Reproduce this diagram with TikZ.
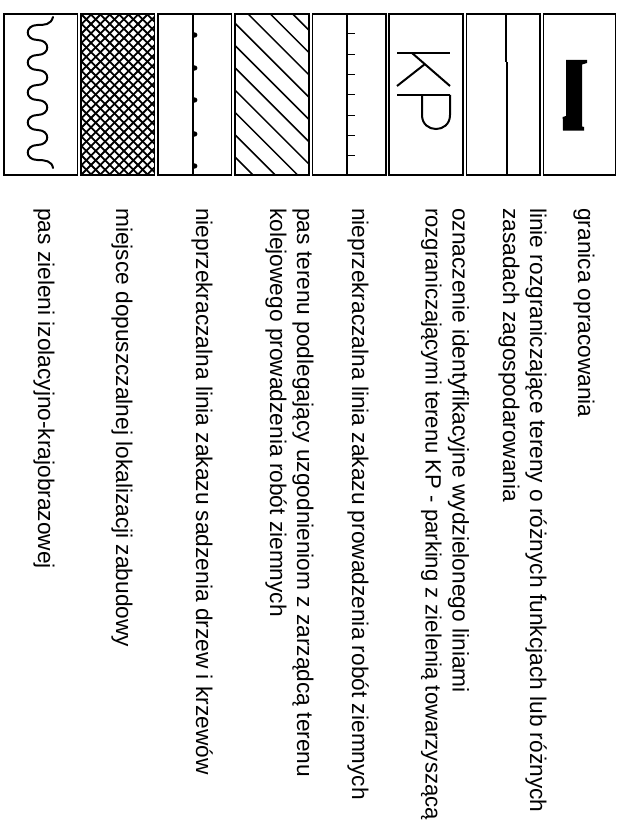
\documentclass[tikz,border=0pt]{standalone}
\usepackage{fontspec}
\setmainfont{Liberation Sans}
\begin{document}
\begin{tikzpicture}[x=1pt,y=-1pt,
  box/.style={draw=black,line width=1.4pt},
  lbl/.style={font=\fontsize{22.7}{27}\selectfont,rotate=-90,anchor=base west,inner sep=0pt,text=black},
  sym/.style={line width=2pt,draw=black},
  hatchline/.style={line width=1.5pt,draw=black},
  tickline/.style={line width=1pt,draw=black}]
\useasboundingbox[fill=white] (0,0) rectangle (616,832);

% ---------- legend boxes ----------
\draw[box] (4,14) rectangle (77.5,175);
\draw[box] (81,14) rectangle (154.5,175);
\draw[box] (158,14) rectangle (231.5,175);
\draw[box] (235,14) rectangle (308.8,175);
\draw[box] (312.4,14) rectangle (385.9,175);
\draw[box] (389,14) rectangle (463,175);
\draw[box] (466.6,14) rectangle (540.1,175);
\draw[box] (543.7,14) rectangle (615.3,175);

% 1: wavy line (pas zieleni)
\draw[sym,line cap=round]
  (53,17) .. controls (51,25) and (44,25) .. (37.5,25)
  .. controls (24.5,25) and (24.5,40) .. (37.5,40)
  .. controls (50.5,40) and (50.5,55) .. (37.5,55)
  .. controls (24.5,55) and (24.5,70) .. (37.5,70)
  .. controls (50.5,70) and (50.5,85) .. (37.5,85)
  .. controls (24.5,85) and (24.5,100) .. (37.5,100)
  .. controls (50.5,100) and (50.5,115) .. (37.5,115)
  .. controls (24.5,115) and (24.5,130) .. (37.5,130)
  .. controls (50.5,130) and (50.5,145) .. (37.5,145)
  .. controls (24.5,145) and (24.5,160) .. (37.5,160)
  .. controls (45,160) and (52,161) .. (53,168);

% 2: cross-hatch (miejsce zabudowy)
\begin{scope}
  \clip (81,14) rectangle (154.5,175);
  \foreach \i in {-18,...,9}{
    \pgfmathsetmacro{\xa}{81+9.4*\i}
    \draw[hatchline,line width=1.8pt] (\xa,14) -- ({\xa+161},175);
    \draw[hatchline,line width=1.8pt] (\xa,175) -- ({\xa+161},14);
  }
\end{scope}

% 3: line with dots (zakaz sadzenia)
\draw[sym] (193.3,14) -- (193.3,175);
\foreach \yy in {35,68,100,134,166}{
  \fill[black] (193.3,\yy-3.2) .. controls (199,\yy-3.2) and (199,\yy+3.2) .. (193.3,\yy+3.2) -- cycle;
}

% 4: diagonal hatch (pas terenu kolejowego)
\begin{scope}
  \clip (235,14) rectangle (308.8,175);
  \foreach \i in {0,...,9}{
    \pgfmathsetmacro{\cc}{-78-22.3*\i}
    \draw[hatchline] (200,{200+\cc}) -- (360,{360+\cc});
  }
\end{scope}

% 5: line with ticks (zakaz robot ziemnych)
\draw[sym] (347,14) -- (347,175);
\foreach \k in {0,...,6}{
  \draw[tickline] (347,{34+20.3*\k}) -- (355,{34+20.3*\k});
}

% 6: KP
\draw[sym] (397,53) -- (450,53);
\draw[sym] (412,53) -- (450,86);
\draw[sym] (425,64) -- (397,86);
\draw[sym] (397,95) -- (450,95);
\draw[sym] (450,95) -- (450,115)
  .. controls (450,133.7) and (422,133.7) .. (422,115) -- (422,95);

% 7: thick line (linie rozgraniczajace)
\draw[line width=2.8pt] (506,14) -- (506,62);
\draw[line width=2.8pt] (507,62) -- (507,175);

% 8: granica opracowania
\fill[black] (566,60) -- (587,60) -- (587,63) -- (582,64.5) -- (582,126.5)
  -- (584,127) -- (584,130.7) -- (563,130.7) -- (562.7,117) -- (566,116) -- cycle;

% ---------- texts ----------
\node[lbl] (t1) at (578,208) {granica opracowania};
\node[lbl] (t2a) at (530,208) {linie rozgraniczające tereny o różnych funkcjach lub różnych};
\node[lbl] (t2b) at (503,208) {zasadach zagospodarowania};
\node[lbl] (t3a) at (452.5,208) {oznaczenie identyfikacyjne wydzielonego liniami};
\node[lbl,font=\fontsize{22.1}{27}\selectfont] (t3b) at (425.5,208) {rozgraniczającymi terenu KP - parking z zielenią towarzyszącą};
\node[lbl] (t4) at (352,208) {nieprzekraczalna linia zakazu prowadzenia robót ziemnych};
\node[lbl] (t5a) at (297,208) {pas terenu podlegający uzgodnieniom z zarządcą terenu};
\node[lbl] (t5b) at (270,208) {kolejowego prowadzenia robót ziemnych};
\node[lbl] (t6) at (196,208) {nieprzekraczalna linia zakazu sadzenia drzew i krzewów};
\node[lbl] (t7) at (116,208) {miejsce dopuszczalnej lokalizacji zabudowy};
\node[lbl] (t8) at (38,208) {pas zieleni izolacyjno-krajobrazowej};
\end{tikzpicture}
\end{document}
